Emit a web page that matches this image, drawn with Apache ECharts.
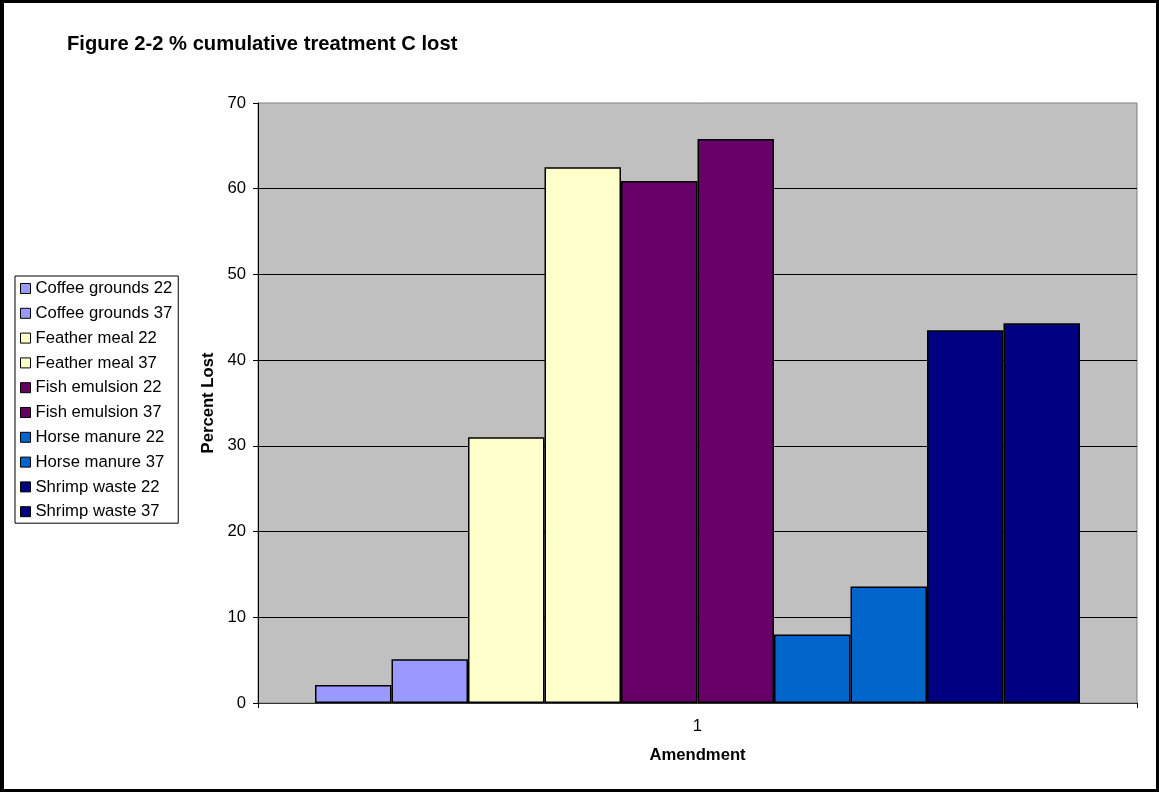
<!DOCTYPE html>
<html>
<head>
<meta charset="utf-8">
<title>Figure 2-2 % cumulative treatment C lost</title>
<script src="https://cdn.jsdelivr.net/npm/echarts@6/dist/echarts.min.js"></script>
<style>
  html, body { margin: 0; padding: 0; background: #fff; }
  #wrap { position: relative; width: 1159px; height: 792px; }
  #chart { position: absolute; left: 0; top: 0; width: 1159px; height: 792px; }
  #frame {
    position: absolute; left: 0; top: 0; width: 1159px; height: 792px;
    box-sizing: border-box; border: 3px solid #000; border-left-width: 4px;
    pointer-events: none;
  }
</style>
</head>
<body>
<div id="wrap">
  <div id="chart"></div>
  <div id="frame"></div>
</div>
<script>
// Amendment categories (a single group on the x axis)
const categories = ['1'];

// One series per amendment / incubation temperature
const seriesNames = [
  'Coffee grounds 22', 'Coffee grounds 37',
  'Feather meal 22', 'Feather meal 37',
  'Fish emulsion 22', 'Fish emulsion 37',
  'Horse manure 22', 'Horse manure 37',
  'Shrimp waste 22', 'Shrimp waste 37'
];

// Percent of treatment C lost (cumulative)
const percentLost = [2.1, 5.1, 31.0, 62.5, 60.9, 65.8, 8.0, 13.6, 43.5, 44.3];

// Fill colours per series
const palette = [
  '#9999FF', '#9999FF',
  '#FFFFCC', '#FFFFCC',
  '#660066', '#660066',
  '#0066CC', '#0066CC',
  '#000080', '#000080'
];

const FONT = '"Liberation Sans", Arial, sans-serif';
const FS = 16.67;

const chart = echarts.init(document.getElementById('chart'), null, { renderer: 'canvas' });

const series = seriesNames.map((name, i) => ({
  name: name,
  type: 'bar',
  data: [percentLost[i]],
  barGap: '0%',
  barCategoryGap: '12.97%',
  itemStyle: { color: palette[i], borderColor: '#000', borderWidth: 1.5 },
  emphasis: { disabled: true },
  animation: false
}));

chart.setOption({
  animation: false,
  backgroundColor: '#fff',
  title: {
    text: 'Figure 2-2 % cumulative treatment C lost',
    left: 67,
    top: 34,
    padding: 0,
    textStyle: { fontFamily: FONT, fontSize: 20.2, fontWeight: 'bold', color: '#000', lineHeight: 20 }
  },
  legend: {
    orient: 'vertical',
    left: 15,
    top: 276,
    padding: [4, 6, 3, 5],
    itemWidth: 10,
    itemHeight: 10,
    itemGap: 7.8,
    icon: 'rect',
    backgroundColor: '#fff',
    borderColor: '#000',
    borderWidth: 1,
    borderRadius: 0,
    selectedMode: false,
    itemStyle: { borderColor: '#000', borderWidth: 1 },
    textStyle: { fontFamily: FONT, fontSize: FS, color: '#000', lineHeight: 17, padding: [0, 0, 0, 0] },
    data: seriesNames
  },
  grid: {
    left: 258,
    top: 103,
    width: 879,
    height: 600,
    show: true,
    backgroundColor: '#C0C0C0',
    borderColor: '#808080',
    borderWidth: 1,
    containLabel: false
  },
  xAxis: {
    type: 'category',
    data: categories,
    name: 'Amendment',
    nameLocation: 'middle',
    nameGap: 44,
    nameTextStyle: { fontFamily: FONT, fontSize: FS, fontWeight: 'bold', color: '#000', lineHeight: 17 },
    axisLine: { show: true, lineStyle: { color: '#333', width: 1 } },
    axisTick: { show: true, length: 5, inside: false, lineStyle: { color: '#000', width: 1 } },
    axisLabel: { fontFamily: FONT, fontSize: FS, color: '#000', margin: 15, lineHeight: 17 },
    splitLine: { show: false }
  },
  yAxis: {
    type: 'value',
    min: 0,
    max: 70,
    interval: 10,
    name: 'Percent Lost',
    nameLocation: 'middle',
    nameGap: 40,
    nameRotate: 90,
    nameTextStyle: { fontFamily: FONT, fontSize: FS, fontWeight: 'bold', color: '#000', lineHeight: 17 },
    axisLine: { show: true, lineStyle: { color: '#000', width: 1 } },
    axisTick: { show: true, length: 5, inside: false, lineStyle: { color: '#000', width: 1 } },
    axisLabel: { fontFamily: FONT, fontSize: FS, color: '#000', margin: 12 },
    splitLine: { show: true, showMaxLine: false, lineStyle: { color: '#000', width: 1 } }
  },
  series: series
});
</script>
</body>
</html>
